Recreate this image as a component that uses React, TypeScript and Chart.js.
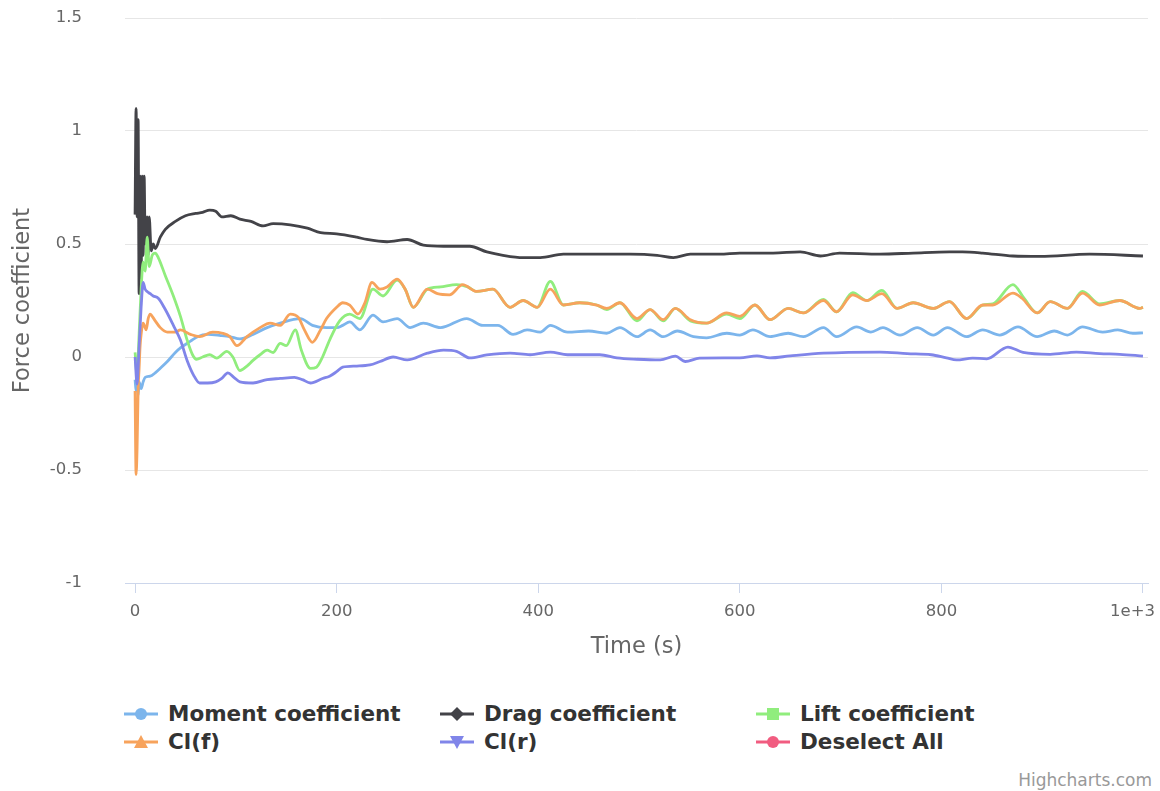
import React, { useEffect, useRef } from 'react';
import { Chart, registerables } from 'chart.js';

Chart.register(...registerables);

// ---- data: [time (s), coefficient] ----
const momentData: number[][] = [
  [0, -0.10], [1, -0.15], [2, -0.08], [3, -0.17], [4, -0.11], [6, -0.14], [8, -0.11], [10, -0.09],
  [15, -0.085], [20, -0.07], [25, -0.05], [32, -0.02], [40, 0.02], [45, 0.04], [55, 0.07], [62, 0.09],
  [72, 0.10], [85, 0.095], [94, 0.09], [104, 0.08], [117, 0.10], [131, 0.13], [144, 0.15], [164, 0.17],
  [176, 0.14], [190, 0.13], [200, 0.13], [206, 0.14], [213, 0.155], [223, 0.12], [236, 0.185], [246, 0.155],
  [260, 0.17], [273, 0.13], [286, 0.15], [303, 0.13], [329, 0.17], [345, 0.14], [360, 0.14], [375, 0.10],
  [389, 0.12], [402, 0.11], [412, 0.14], [429, 0.11], [450, 0.115], [468, 0.105], [481, 0.13], [498, 0.09],
  [511, 0.12], [524, 0.09], [538, 0.115], [554, 0.09], [567, 0.085], [587, 0.105], [600, 0.097], [613, 0.12],
  [630, 0.09], [648, 0.105], [663, 0.09], [683, 0.13], [696, 0.09], [716, 0.133], [730, 0.11], [742, 0.13],
  [759, 0.097], [776, 0.13], [792, 0.097], [806, 0.13], [825, 0.09], [841, 0.12], [858, 0.097], [876, 0.133],
  [895, 0.09], [912, 0.115], [925, 0.097], [940, 0.133], [960, 0.11], [975, 0.12], [990, 0.105], [1000, 0.107],
];

const dragData: number[][] = [
  [0, 0.63], [1, 1.10], [2, 0.62], [3, 1.05], [4, 0.28], [5, 0.80], [6, 0.35], [7, 0.80], [8, 0.45],
  [9, 0.80], [10, 0.50], [12, 0.62], [13, 0.45], [14, 0.62], [16, 0.47], [18, 0.50], [20, 0.48],
  [25, 0.53], [30, 0.565], [40, 0.60], [50, 0.625], [60, 0.635], [67, 0.64], [74, 0.65], [80, 0.645],
  [86, 0.62], [95, 0.625], [104, 0.61], [115, 0.60], [127, 0.58], [137, 0.59], [154, 0.585], [171, 0.57],
  [184, 0.55], [200, 0.545], [220, 0.53], [230, 0.52], [250, 0.51], [270, 0.52], [286, 0.495], [306, 0.49],
  [332, 0.49], [349, 0.465], [365, 0.45], [385, 0.44], [402, 0.44], [425, 0.455], [458, 0.455], [491, 0.455],
  [518, 0.45], [534, 0.44], [551, 0.455], [580, 0.455], [600, 0.46], [633, 0.46], [660, 0.465], [680, 0.447],
  [699, 0.46], [739, 0.455], [772, 0.46], [808, 0.465], [821, 0.465], [841, 0.46], [871, 0.447], [898, 0.445],
  [947, 0.455], [1000, 0.447],
];

const liftData: number[][] = [
  [0, 0.02], [2, -0.08], [4, 0.10], [6, 0.30], [8, 0.42], [10, 0.38], [12, 0.53], [14, 0.40], [17, 0.45],
  [20, 0.46], [23, 0.44], [30, 0.36], [38, 0.27], [45, 0.18], [52, 0.07], [57, 0.01], [61, -0.01], [67, 0.0],
  [74, 0.01], [81, -0.005], [91, 0.025], [97, 0.0], [104, -0.06], [111, -0.04], [117, -0.015], [124, 0.01],
  [131, 0.03], [137, 0.02], [144, 0.06], [150, 0.05], [159, 0.12], [165, 0.03], [174, -0.05], [180, -0.045],
  [186, 0.0], [193, 0.075], [203, 0.16], [213, 0.19], [223, 0.17], [236, 0.30], [246, 0.27], [260, 0.34],
  [268, 0.30], [276, 0.22], [290, 0.30], [303, 0.31], [319, 0.32], [330, 0.31], [339, 0.29], [355, 0.30],
  [372, 0.22], [385, 0.25], [399, 0.22], [412, 0.335], [425, 0.23], [441, 0.24], [458, 0.23], [468, 0.21],
  [481, 0.24], [498, 0.16], [511, 0.21], [524, 0.16], [536, 0.215], [551, 0.16], [567, 0.15], [587, 0.19],
  [600, 0.17], [615, 0.23], [630, 0.165], [648, 0.215], [663, 0.195], [683, 0.255], [696, 0.20], [712, 0.285],
  [726, 0.25], [741, 0.295], [756, 0.215], [772, 0.24], [792, 0.215], [808, 0.245], [825, 0.17], [841, 0.23],
  [851, 0.235], [871, 0.32], [882, 0.26], [895, 0.195], [908, 0.245], [925, 0.215], [940, 0.29], [957, 0.235],
  [977, 0.25], [997, 0.215], [1000, 0.22],
];

const clfData: number[][] = [
  [0, -0.15], [1, -0.52], [2, -0.40], [3, -0.15], [4, -0.05], [5, 0.05], [6, 0.10], [8, 0.15], [10, 0.13],
  [11, 0.12], [13, 0.17], [15, 0.19], [17, 0.18], [20, 0.16], [25, 0.13], [32, 0.11], [40, 0.11], [45, 0.12],
  [55, 0.10], [64, 0.09], [77, 0.11], [87, 0.105], [94, 0.09], [101, 0.05], [111, 0.09], [124, 0.13],
  [134, 0.15], [144, 0.14], [154, 0.19], [162, 0.175], [168, 0.12], [176, 0.065], [184, 0.12], [190, 0.17],
  [200, 0.22], [206, 0.24], [213, 0.23], [221, 0.19], [228, 0.24], [235, 0.33], [243, 0.30], [250, 0.31],
  [260, 0.345], [268, 0.30], [276, 0.22], [290, 0.30], [300, 0.28], [312, 0.275], [325, 0.32], [339, 0.29],
  [355, 0.30], [372, 0.22], [385, 0.25], [399, 0.22], [412, 0.30], [425, 0.23], [441, 0.24], [458, 0.23],
  [468, 0.215], [481, 0.24], [498, 0.17], [511, 0.21], [524, 0.165], [536, 0.215], [551, 0.165], [567, 0.15],
  [587, 0.195], [600, 0.18], [615, 0.23], [630, 0.165], [648, 0.215], [663, 0.195], [683, 0.25], [696, 0.20],
  [712, 0.275], [726, 0.25], [741, 0.28], [756, 0.215], [772, 0.24], [792, 0.215], [808, 0.245], [825, 0.17],
  [841, 0.23], [851, 0.23], [871, 0.283], [880, 0.26], [895, 0.195], [908, 0.245], [925, 0.215], [940, 0.283],
  [957, 0.23], [977, 0.25], [997, 0.215], [1000, 0.22],
];

const clrData: number[][] = [
  [0, 0.0], [2, -0.12], [4, 0.05], [6, 0.22], [8, 0.33], [10, 0.30], [12, 0.29], [15, 0.28], [18, 0.27],
  [23, 0.26], [30, 0.21], [38, 0.14], [45, 0.075], [52, -0.02], [58, -0.08], [64, -0.115], [72, -0.115],
  [80, -0.11], [86, -0.095], [92, -0.07], [98, -0.09], [104, -0.11], [117, -0.115], [131, -0.10], [144, -0.095],
  [158, -0.09], [166, -0.10], [174, -0.115], [186, -0.095], [193, -0.085], [200, -0.065], [206, -0.045],
  [220, -0.04], [233, -0.035], [243, -0.02], [256, 0.0], [270, -0.013], [290, 0.017], [306, 0.03], [319, 0.025],
  [332, -0.004], [349, 0.009], [372, 0.017], [392, 0.01], [412, 0.022], [429, 0.01], [461, 0.01], [478, -0.004],
  [498, -0.01], [521, -0.013], [536, 0.004], [546, -0.02], [560, -0.005], [600, -0.004], [617, 0.005],
  [630, -0.004], [650, 0.005], [683, 0.017], [739, 0.022], [766, 0.015], [790, 0.01], [805, -0.004],
  [815, -0.013], [831, -0.005], [845, -0.008], [866, 0.044], [881, 0.02], [908, 0.012], [934, 0.022],
  [957, 0.015], [977, 0.012], [1000, 0.004],
];

const xTickValues = [0, 200, 400, 600, 800, 1000];
const xTickLabels = ['0', '200', '400', '600', '800', '1e+3'];
const yTickValues = [-1, -0.5, 0, 0.5, 1, 1.5];
const yTickLabels = ['-1', '-0.5', '0', '0.5', '1', '1.5'];

const seriesNames = ['Moment coefficient', 'Drag coefficient', 'Lift coefficient', 'Cl(f)', 'Cl(r)', 'Deselect All'];
const seriesColors = ['#7cb5ec', '#434348', '#90ed7d', '#f7a35c', '#8085e9', '#f15c80'];
const seriesMarkers = ['circle', 'diamond', 'square', 'triangle', 'triangle-down', 'circle'];
const seriesData = [momentData, dragData, liftData, clfData, clrData, [] as number[][]];

const FONT = '"DejaVu Sans", "Lucida Grande", sans-serif';
// keeps the last x label inside the canvas, as Highcharts does
const EDGE_PAD = '\u00a0\u00a0\u00a0\u00a0';

function LegendSymbol({ kind, color }: { kind: string; color: string }) {
  let shape: React.ReactNode = null;
  if (kind === 'circle') shape = <circle cx={17} cy={8} r={6} fill={color} />;
  else if (kind === 'diamond') shape = <polygon points="17,1 24,8 17,15 10,8" fill={color} />;
  else if (kind === 'square') shape = <rect x={11} y={2} width={12} height={12} fill={color} />;
  else if (kind === 'triangle') shape = <polygon points="17,1 24,14 10,14" fill={color} />;
  else if (kind === 'triangle-down') shape = <polygon points="10,2 24,2 17,15" fill={color} />;
  return (
    <svg width={34} height={16} style={{ display: 'block' }}>
      <line x1={0} y1={8} x2={34} y2={8} stroke={color} strokeWidth={3} />
      {shape}
    </svg>
  );
}

export default function App() {
  const canvasRef = useRef<HTMLCanvasElement | null>(null);

  useEffect(() => {
    document.body.style.margin = '0';
    const canvas = canvasRef.current;
    if (!canvas) return;
    const order = [5, 4, 3, 2, 1];
    const datasets = seriesData.slice(0, 5).map((d, i) => ({
      label: seriesNames[i],
      data: d.map(([x, y]) => ({ x, y })),
      borderColor: seriesColors[i],
      backgroundColor: seriesColors[i],
      borderWidth: 2.8,
      pointRadius: 0,
      fill: false,
      cubicInterpolationMode: 'monotone' as const,
      order: order[i],
    }));
    const chart = new Chart(canvas, {
      type: 'line',
      data: { datasets },
      options: {
        animation: false,
        responsive: false,
        maintainAspectRatio: false,
        layout: { padding: { top: 18, right: 12, left: 0, bottom: 0 } },
        plugins: { legend: { display: false }, tooltip: { enabled: false } },
        scales: {
          x: {
            type: 'linear',
            min: -10,
            max: 1005,
            afterFit: (s: any) => {
              s.height = 97;
              s.paddingLeft = 0;
              s.paddingRight = 0;
            },
            afterBuildTicks: (s: any) => { s.ticks = xTickValues.map((v) => ({ value: v })); },
            ticks: {
              autoSkip: false,
              maxRotation: 0,
              padding: 9,
              color: '#666666',
              font: { family: FONT, size: 16.5 },
              callback: (v: any) => {
                const i = xTickValues.indexOf(Number(v));
                if (i < 0) return '';
                return i === xTickValues.length - 1 ? xTickLabels[i] + EDGE_PAD : xTickLabels[i];
              },
            },
            grid: { drawOnChartArea: false, drawTicks: true, tickLength: 10, color: '#ccd6eb', lineWidth: 1 },
            border: { display: true, color: '#ccd6eb', width: 1 },
            title: {
              display: true,
              text: 'Time (s)',
              color: '#666666',
              font: { family: FONT, size: 22.5 },
              padding: { top: 0, bottom: 19 },
            },
          },
          y: {
            type: 'linear',
            min: -1,
            max: 1.5,
            afterFit: (s: any) => {
              s.width = 125;
              s.paddingTop = 0;
              s.paddingBottom = 0;
            },
            afterBuildTicks: (s: any) => { s.ticks = yTickValues.map((v) => ({ value: v })); },
            ticks: {
              padding: 43,
              color: '#666666',
              font: { family: FONT, size: 16.5 },
              callback: (v: any) => {
                const i = yTickValues.indexOf(Number(v));
                return i >= 0 ? yTickLabels[i] : '';
              },
            },
            grid: { drawTicks: false, color: '#e6e6e6', lineWidth: 1 },
            border: { display: false },
            title: {
              display: true,
              text: 'Force coefficient',
              color: '#666666',
              font: { family: FONT, size: 22.5 },
              padding: { top: 10, bottom: 0 },
            },
          },
        },
      },
    });
    return () => chart.destroy();
  }, []);

  const colX = [168, 484, 800];
  const rowY = [714, 742];

  return (
    <div style={{ position: 'absolute', left: 0, top: 0, width: 1160, height: 791, background: '#ffffff', overflow: 'hidden' }}>
      <canvas ref={canvasRef} width={1160} height={680} style={{ display: 'block', width: 1160, height: 680 }} />
      {seriesNames.map((name, i) => {
        const x = colX[i % 3];
        const y = rowY[Math.floor(i / 3)];
        return (
          <React.Fragment key={name}>
            <div style={{ position: 'absolute', left: x - 44, top: y - 8 }}>
              <LegendSymbol kind={seriesMarkers[i]} color={seriesColors[i]} />
            </div>
            <div
              style={{
                position: 'absolute',
                left: x,
                top: y - 14,
                height: 28,
                lineHeight: '28px',
                fontFamily: FONT,
                fontWeight: 'bold',
                fontSize: 21.5,
                color: '#333333',
                whiteSpace: 'nowrap',
              }}
            >
              {name}
            </div>
          </React.Fragment>
        );
      })}
      <div
        style={{
          position: 'absolute',
          right: 8,
          top: 769,
          lineHeight: '22px',
          fontFamily: FONT,
          fontSize: 17,
          color: '#999999',
        }}
      >
        Highcharts.com
      </div>
    </div>
  );
}
